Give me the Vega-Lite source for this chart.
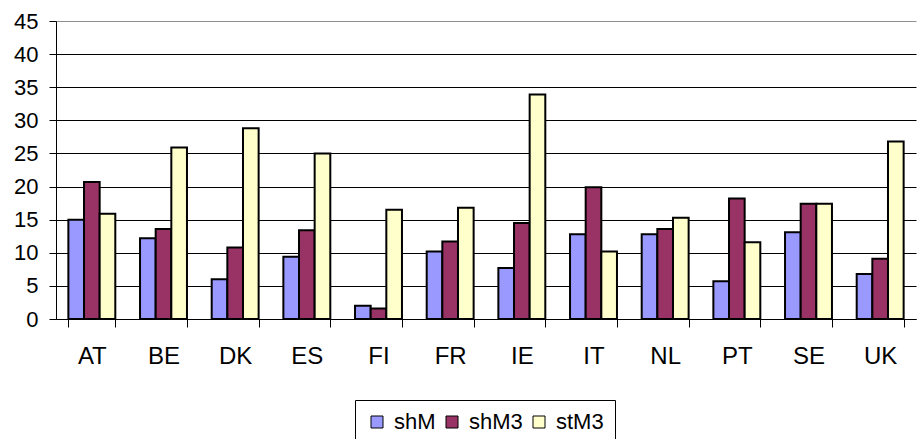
{
  "$schema": "https://vega.github.io/schema/vega-lite/v6.json",
  "width": 860,
  "height": 298,
  "autosize": "none",
  "padding": {"left": 56, "top": 21, "right": 2, "bottom": 120},
  "background": "white",
  "data": {
    "values": [
      {"country": "AT", "series": "shM", "value": 15.0},
      {"country": "AT", "series": "shM3", "value": 20.7},
      {"country": "AT", "series": "stM3", "value": 15.9},
      {"country": "BE", "series": "shM", "value": 12.2},
      {"country": "BE", "series": "shM3", "value": 13.6},
      {"country": "BE", "series": "stM3", "value": 25.9},
      {"country": "DK", "series": "shM", "value": 6.0},
      {"country": "DK", "series": "shM3", "value": 10.8},
      {"country": "DK", "series": "stM3", "value": 28.8},
      {"country": "ES", "series": "shM", "value": 9.4},
      {"country": "ES", "series": "shM3", "value": 13.4},
      {"country": "ES", "series": "stM3", "value": 25.0},
      {"country": "FI", "series": "shM", "value": 2.0},
      {"country": "FI", "series": "shM3", "value": 1.6},
      {"country": "FI", "series": "stM3", "value": 16.5},
      {"country": "FR", "series": "shM", "value": 10.2},
      {"country": "FR", "series": "shM3", "value": 11.7},
      {"country": "FR", "series": "stM3", "value": 16.8},
      {"country": "IE", "series": "shM", "value": 7.7},
      {"country": "IE", "series": "shM3", "value": 14.5},
      {"country": "IE", "series": "stM3", "value": 33.9},
      {"country": "IT", "series": "shM", "value": 12.8},
      {"country": "IT", "series": "shM3", "value": 19.9},
      {"country": "IT", "series": "stM3", "value": 10.2},
      {"country": "NL", "series": "shM", "value": 12.8},
      {"country": "NL", "series": "shM3", "value": 13.6},
      {"country": "NL", "series": "stM3", "value": 15.3},
      {"country": "PT", "series": "shM", "value": 5.7},
      {"country": "PT", "series": "shM3", "value": 18.2},
      {"country": "PT", "series": "stM3", "value": 11.6},
      {"country": "SE", "series": "shM", "value": 13.1},
      {"country": "SE", "series": "shM3", "value": 17.4},
      {"country": "SE", "series": "stM3", "value": 17.4},
      {"country": "UK", "series": "shM", "value": 6.8},
      {"country": "UK", "series": "shM3", "value": 9.1},
      {"country": "UK", "series": "stM3", "value": 26.8}
    ]
  },
  "mark": {"type": "bar", "stroke": "black", "strokeWidth": 2},
  "encoding": {
    "x": {
      "field": "country",
      "type": "nominal",
      "sort": null,
      "scale": {"paddingInner": 0.345, "paddingOuter": 0.1725},
      "axis": {
        "title": null,
        "labelAngle": 0,
        "tickBand": "extent",
        "domainColor": "black",
        "domainWidth": 1,
        "tickColor": "black",
        "tickSize": 8,
        "labelPadding": 17,
        "labelFont": "Liberation Sans",
        "labelFontSize": 24,
        "labelColor": "black",
        "grid": false
      }
    },
    "xOffset": {
      "field": "series",
      "type": "nominal",
      "sort": ["shM", "shM3", "stM3"],
      "scale": {"paddingInner": 0, "paddingOuter": 0}
    },
    "y": {
      "field": "value",
      "type": "quantitative",
      "scale": {"domain": [0, 45], "nice": false},
      "axis": {
        "title": null,
        "values": [0, 5, 10, 15, 20, 25, 30, 35, 40, 45],
        "grid": true,
        "gridColor": {"condition": {"test": "datum.value == 45", "value": "#909090"}, "value": "black"},
        "gridWidth": 1,
        "domainColor": "black",
        "domainWidth": 1,
        "tickColor": "black",
        "tickSize": 7,
        "labelPadding": 11,
        "labelFont": "Liberation Sans",
        "labelFontSize": 22,
        "labelColor": "black"
      }
    },
    "color": {
      "field": "series",
      "type": "nominal",
      "sort": ["shM", "shM3", "stM3"],
      "scale": {"domain": ["shM", "shM3", "stM3"], "range": ["#9999FF", "#993366", "#FFFFCC"]},
      "legend": {
        "title": null,
        "orient": "none",
        "legendX": 299,
        "legendY": 379,
        "direction": "horizontal",
        "strokeColor": "black",
        "fillColor": "white",
        "padding": 11,
        "symbolType": "square",
        "symbolSize": 144,
        "symbolStrokeColor": "black",
        "symbolStrokeWidth": 1,
        "symbolOpacity": 1,
        "labelFont": "Liberation Sans",
        "labelFontSize": 22,
        "labelColor": "black",
        "labelOffset": 6,
        "columnPadding": 5
      }
    }
  },
  "config": {"view": {"stroke": null}}
}
